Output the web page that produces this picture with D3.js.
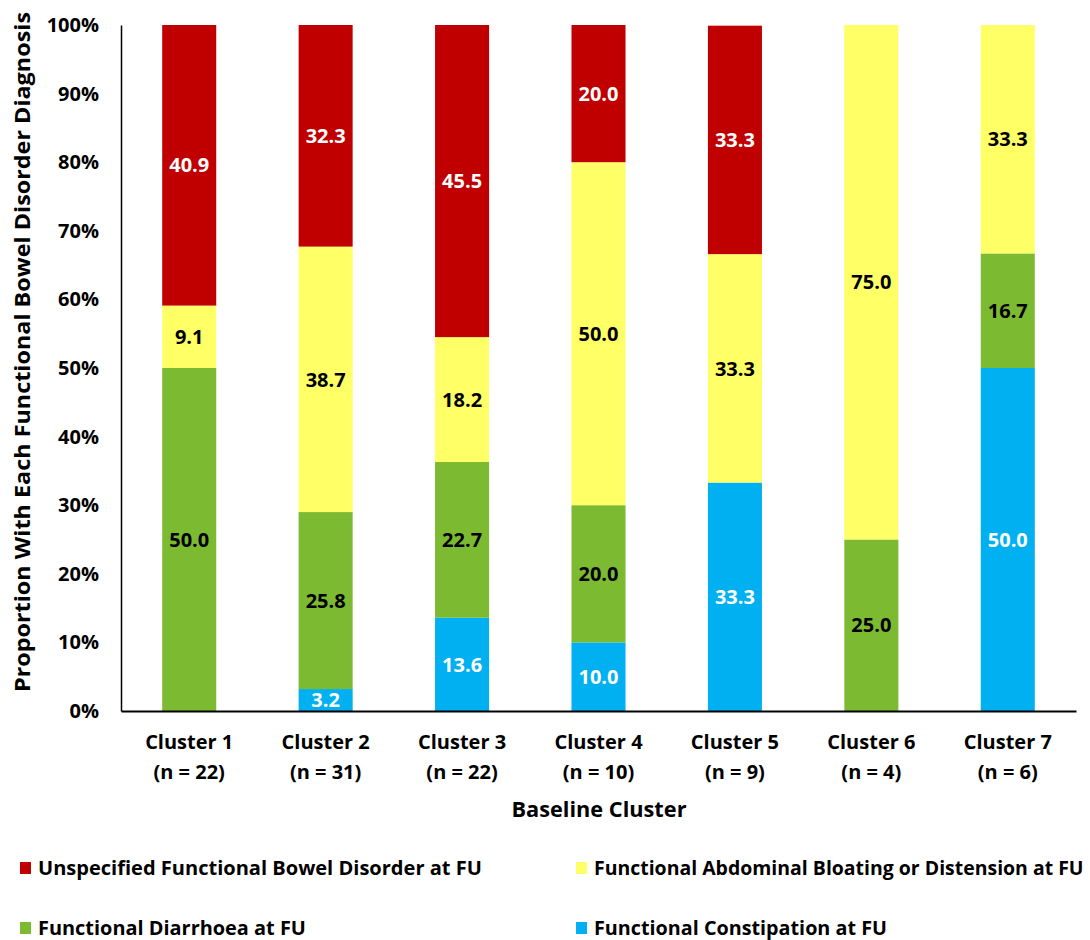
<!DOCTYPE html>
<html><head><meta charset="utf-8">
<script src="https://cdn.jsdelivr.net/npm/d3@7"></script>
<style>
html,body{margin:0;padding:0;background:#fff;overflow:hidden;}
svg{display:block;font-family:"Open Sans",sans-serif;font-weight:700;}
</style></head>
<body><svg id="c" width="1090" height="940"></svg>
<script>
const clusters = ["Cluster 1","Cluster 2","Cluster 3","Cluster 4","Cluster 5","Cluster 6","Cluster 7"];
const clusterN = ["(n = 22)","(n = 31)","(n = 22)","(n = 10)","(n = 9)","(n = 4)","(n = 6)"];
const seriesNames = ["Functional Constipation at FU","Functional Diarrhoea at FU","Functional Abdominal Bloating or Distension at FU","Unspecified Functional Bowel Disorder at FU"];
const constipation = [0, 3.2, 13.6, 10.0, 33.3, 0, 50.0];
const diarrhoea    = [50.0, 25.8, 22.7, 20.0, 0, 25.0, 16.7];
const bloating     = [9.1, 38.7, 18.2, 50.0, 33.3, 75.0, 33.3];
const unspecified  = [40.9, 32.3, 45.5, 20.0, 33.3, 0, 0];
const yTicks = [0,10,20,30,40,50,60,70,80,90,100];
const colors = ["#00B0F0","#7CBA32","#FFFF66","#C00000"];
const labelColors = ["#fff","#000","#000","#fff"];

const svg = d3.select("#c");
const x = d3.scaleBand().domain(clusters).range([121,1076]).paddingInner(0.604).paddingOuter(0.302);
const y = d3.scaleLinear().domain([0,100]).range([711,25]);

const rows = clusters.map((c,i)=>({cluster:c, s0:constipation[i], s1:diarrhoea[i], s2:bloating[i], s3:unspecified[i]}));
const stack = d3.stack().keys(["s0","s1","s2","s3"]);
const layers = stack(rows);

const g = svg.append("g");
layers.forEach((layer,k)=>{
  g.selectAll(null).data(layer).enter().append("rect")
    .attr("x",d=>x(d.data.cluster)).attr("width",x.bandwidth())
    .attr("y",d=>y(d[1])).attr("height",d=>y(d[0])-y(d[1]))
    .attr("fill",colors[k]);
  g.selectAll(null).data(layer.filter(d=>d[1]-d[0]>0)).enter().append("text")
    .attr("x",d=>x(d.data.cluster)+x.bandwidth()/2)
    .attr("y",d=>(y(d[0])+y(d[1]))/2)
    .attr("dy","0.36em").attr("text-anchor","middle")
    .attr("font-size",20).attr("fill",labelColors[k])
    .text(d=>(d[1]-d[0]).toFixed(1));
});

// axes
const yAxis = d3.axisLeft(y).tickValues(yTicks).tickSize(0).tickPadding(22).tickFormat(d=>d+"%");
const ya = svg.append("g").attr("transform","translate(121,0)").call(yAxis);
ya.select(".domain").attr("stroke","#000").attr("stroke-width",1.5);
ya.selectAll("text").attr("font-size",20).attr("font-family","'Open Sans',sans-serif").attr("font-weight",700).attr("fill","#000");

const xAxis = d3.axisBottom(x).tickSize(0).tickFormat("");
const xa = svg.append("g").attr("transform","translate(0,711)").call(xAxis);
xa.select(".domain").attr("stroke","#000").attr("stroke-width",2);

clusters.forEach((c,i)=>{
  const cx = x(c)+x.bandwidth()/2;
  svg.append("text").attr("x",cx).attr("y",749).attr("text-anchor","middle").attr("font-size",20).text(c);
  svg.append("text").attr("x",cx).attr("y",779).attr("text-anchor","middle").attr("font-size",20).text(clusterN[i]);
});

svg.append("text").attr("x",599).attr("y",817).attr("text-anchor","middle").attr("font-size",21)
  .attr("textLength",175).attr("lengthAdjust","spacingAndGlyphs").text("Baseline Cluster");
svg.append("text").attr("transform","translate(30,352) rotate(-90)").attr("text-anchor","middle").attr("font-size",21)
  .attr("textLength",680).attr("lengthAdjust","spacingAndGlyphs").text("Proportion With Each Functional Bowel Disorder Diagnosis");

// legend
const legendOrder = [3,2,1,0];
const legPos = [[20,868],[576,868],[20,928],[576,928]];
const legLen = [444, 490, 268, 293];
legendOrder.forEach((k,i)=>{
  const [lx,ly] = legPos[i];
  svg.append("rect").attr("x",lx).attr("y",ly-6).attr("width",11).attr("height",12).attr("fill",colors[k]);
  const lg = svg.append("g");
  const t = lg.append("text").attr("x",0).attr("y",0).attr("dy","0.36em").attr("font-size",20).text(seriesNames[k]);
  const natural = t.node().getComputedTextLength();
  lg.attr("transform",`translate(${lx+18},${ly}) scale(${legLen[i]/natural},1)`);
});
</script></body></html>
